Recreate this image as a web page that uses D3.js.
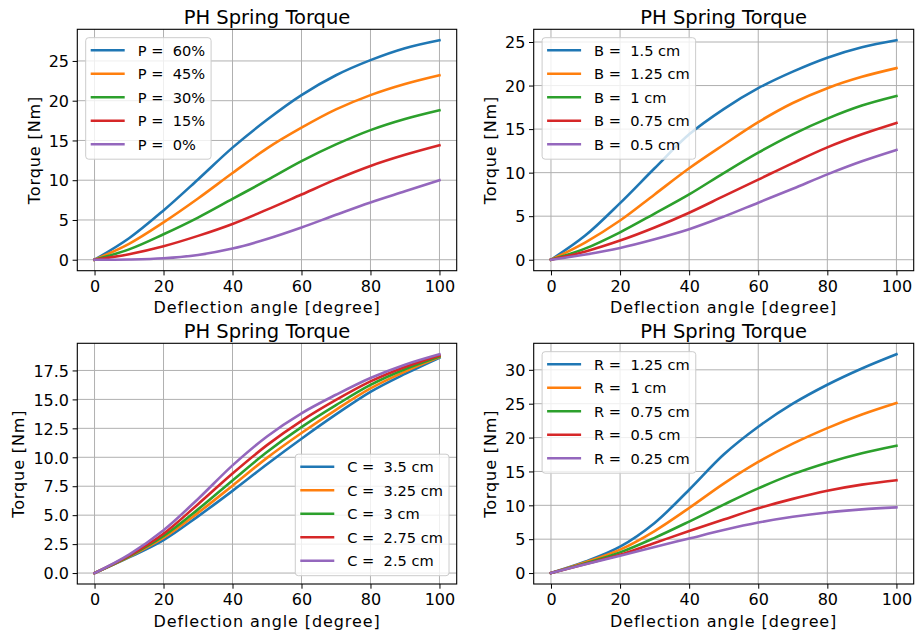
<!DOCTYPE html>
<html>
<head>
<meta charset="utf-8">
<script src="https://cdn.jsdelivr.net/npm/d3@7"></script>
<style>
  body { margin: 0; background: #fff; }
  text { font-family: "DejaVu Sans", sans-serif; fill: #000; }
</style>
</head>
<body>
<svg id="fig" width="917" height="634"></svg>
<script>
const angles = [0, 10, 20, 30, 40, 50, 60, 70, 80, 90, 100];

// panel 1 : pretension P
const pLabels = ["P =  60%", "P =  45%", "P =  30%", "P =  15%", "P =  0%"];
const pSeries = [
  [0, 2.7, 6.2, 10.1, 14.1, 17.6, 20.7, 23.2, 25.1, 26.6, 27.6],
  [0, 2.0, 4.7, 7.7, 10.9, 14.0, 16.6, 18.9, 20.7, 22.1, 23.2],
  [0, 1.3, 3.2, 5.3, 7.65, 10.0, 12.4, 14.5, 16.3, 17.7, 18.8],
  [0, 0.7, 1.7, 3.0, 4.5, 6.3, 8.2, 10.1, 11.8, 13.2, 14.4],
  [0, 0.03, 0.18, 0.6, 1.4, 2.6, 4.05, 5.65, 7.2, 8.6, 10.0]
];

// panel 2 : B
const bLabels = ["B =  1.5 cm", "B =  1.25 cm", "B =  1 cm", "B =  0.75 cm", "B =  0.5 cm"];
const bSeries = [
  [0, 2.8, 6.5, 10.5, 14.4, 17.3, 19.7, 21.6, 23.2, 24.4, 25.2],
  [0, 2.0, 4.5, 7.5, 10.5, 13.2, 15.8, 18.0, 19.7, 21.0, 22.0],
  [0, 1.3, 3.15, 5.3, 7.5, 9.95, 12.3, 14.4, 16.2, 17.7, 18.8],
  [0, 0.95, 2.2, 3.7, 5.4, 7.3, 9.2, 11.1, 12.9, 14.4, 15.7],
  [0, 0.6, 1.35, 2.35, 3.5, 4.95, 6.55, 8.15, 9.8, 11.3, 12.6]
];

// panel 3 : C
const cLabels = ["C =  3.5 cm", "C =  3.25 cm", "C =  3 cm", "C =  2.75 cm", "C =  2.5 cm"];
const cSeries = [
  [0, 1.35, 2.85, 4.9, 7.1, 9.4, 11.6, 13.7, 15.65, 17.2, 18.6],
  [0, 1.4, 3.05, 5.2, 7.55, 9.95, 12.1, 14.1, 15.95, 17.4, 18.65],
  [0, 1.45, 3.2, 5.5, 8.0, 10.45, 12.6, 14.5, 16.25, 17.6, 18.7],
  [0, 1.5, 3.4, 5.95, 8.6, 11.05, 13.15, 14.95, 16.55, 17.8, 18.8],
  [0, 1.6, 3.7, 6.4, 9.3, 11.8, 13.8, 15.4, 16.85, 18.0, 18.9]
];

// panel 4 : R
const rLabels = ["R =  1.25 cm", "R =  1 cm", "R =  0.75 cm", "R =  0.5 cm", "R =  0.25 cm"];
const rSeries = [
  [0, 1.7, 3.9, 7.4, 12.3, 17.5, 21.6, 25.0, 27.8, 30.2, 32.3],
  [0, 1.6, 3.45, 6.2, 9.6, 13.2, 16.4, 19.1, 21.4, 23.4, 25.1],
  [0, 1.45, 3.05, 5.2, 7.6, 10.1, 12.5, 14.6, 16.3, 17.7, 18.8],
  [0, 1.35, 2.7, 4.45, 6.2, 7.9, 9.55, 10.95, 12.15, 13.05, 13.7],
  [0, 1.3, 2.55, 3.85, 5.1, 6.35, 7.45, 8.3, 8.95, 9.4, 9.7]
];

const xTicks = [0, 20, 40, 60, 80, 100];
const yTicks25 = [0, 5, 10, 15, 20, 25];
const yTicks175 = [0, 2.5, 5, 7.5, 10, 12.5, 15, 17.5];
const yTicks30 = [0, 5, 10, 15, 20, 25, 30];

const titleText = "PH Spring Torque";
const xLabel = "Deflection angle [degree]";
const yLabel = "Torque [Nm]";
const colors = ["#1f77b4", "#ff7f0e", "#2ca02c", "#d62728", "#9467bd"];

const panels = [
  { labels: pLabels, series: pSeries, yTicks: yTicks25, fmt: d3.format("d"), x0: 77.3, x1: 456.7, y0: 29.3, y1: 270.7, legend: "ul" },
  { labels: bLabels, series: bSeries, yTicks: yTicks25, fmt: d3.format("d"), x0: 533.7, x1: 913.7, y0: 29.3, y1: 270.7, legend: "ul" },
  { labels: cLabels, series: cSeries, yTicks: yTicks175, fmt: d3.format(".1f"), x0: 77.3, x1: 456.7, y0: 343.3, y1: 584, legend: "lr" },
  { labels: rLabels, series: rSeries, yTicks: yTicks30, fmt: d3.format("d"), x0: 533.7, x1: 913.7, y0: 343.3, y1: 584, legend: "ul" }
];

const svg = d3.select('#fig');

panels.forEach(p => drawPanel(p));

function drawPanel(p) {
  const ymax = d3.max(p.series, s => d3.max(s));
  const ymin = 0;
  const pad = (ymax - ymin) * 0.05;

  const x = d3.scaleLinear().domain([-5, 105]).range([p.x0, p.x1]);
  const y = d3.scaleLinear().domain([ymin - pad, ymax + pad]).range([p.y1, p.y0]);

  const g = svg.append('g');

  // grid
  g.append('g')
    .selectAll('line').data(xTicks).enter().append('line')
    .attr('x1', d => x(d)).attr('x2', d => x(d))
    .attr('y1', p.y0).attr('y2', p.y1)
    .attr('stroke', '#b0b0b0').attr('stroke-width', 1);
  g.append('g')
    .selectAll('line').data(p.yTicks).enter().append('line')
    .attr('x1', p.x0).attr('x2', p.x1)
    .attr('y1', d => y(d)).attr('y2', d => y(d))
    .attr('stroke', '#b0b0b0').attr('stroke-width', 1);

  // axes
  const xAxis = d3.axisBottom(x).tickValues(xTicks).tickSize(4.7).tickPadding(4);
  const yAxis = d3.axisLeft(y).tickValues(p.yTicks).tickFormat(p.fmt).tickSize(4.7).tickPadding(3.6);

  const gx = g.append('g').attr('transform', `translate(0,${p.y1})`).call(xAxis);
  gx.select('.domain').remove();
  gx.selectAll('text').attr('font-size', 16).attr('font-family', '"DejaVu Sans", sans-serif')
    .attr('dy', null).attr('y', 21).attr('fill', '#000');
  gx.selectAll('line').attr('stroke', '#000').attr('stroke-width', 1);

  const gy = g.append('g').attr('transform', `translate(${p.x0},0)`).call(yAxis);
  gy.select('.domain').remove();
  gy.selectAll('text').attr('font-size', 16).attr('font-family', '"DejaVu Sans", sans-serif')
    .attr('dy', '0.36em').attr('fill', '#000');
  gy.selectAll('line').attr('stroke', '#000').attr('stroke-width', 1);

  // curves
  const line = d3.line()
    .x((d, i) => x(angles[i]))
    .y(d => y(d))
    .curve(d3.curveCatmullRom.alpha(0.5));

  g.append('g')
    .selectAll('path').data(p.series).enter().append('path')
    .attr('d', d => line(d))
    .attr('fill', 'none')
    .attr('stroke', (d, i) => colors[i])
    .attr('stroke-width', 2.6)
    .attr('stroke-linecap', 'square');

  // frame
  g.append('rect')
    .attr('x', p.x0).attr('y', p.y0)
    .attr('width', p.x1 - p.x0).attr('height', p.y1 - p.y0)
    .attr('fill', 'none').attr('stroke', '#000').attr('stroke-width', 1.1);

  // title
  g.append('text')
    .attr('x', (p.x0 + p.x1) / 2)
    .attr('y', p.y0 - 5)
    .attr('text-anchor', 'middle')
    .style('font-size', '19.5px')
    .text(titleText);

  // x label
  g.append('text')
    .attr('x', (p.x0 + p.x1) / 2)
    .attr('y', p.y1 + 42.6)
    .attr('text-anchor', 'middle')
    .style('font-size', '16px')
    .style('letter-spacing', '0.9px')
    .text(xLabel);

  // y label, placed left of the widest tick label
  let tw = 0;
  gy.selectAll('text').each(function () { tw = Math.max(tw, this.getComputedTextLength()); });
  const ylx = p.x0 - 8.3 - tw - 9;
  g.append('text')
    .attr('transform', `translate(${ylx},${(p.y0 + p.y1) / 2}) rotate(-90)`)
    .attr('text-anchor', 'middle')
    .style('font-size', '16px')
    .style('letter-spacing', '0.9px')
    .text(yLabel);

  // legend
  const lg = g.append('g');
  const rowH = 23.5;
  const texts = lg.selectAll('text').data(p.labels).enter().append('text')
    .style('font-size', '14.6px')
    .style('white-space', 'pre')
    .attr('xml:space', 'preserve')
    .attr('dy', '0.36em')
    .text(d => d);
  let lw = 0;
  texts.each(function () { lw = Math.max(lw, this.getComputedTextLength()); });
  const boxW = 52 + lw + 6;
  const boxH = 121.5;
  let bx, by;
  if (p.legend === 'lr') {
    bx = p.x1 - 7.7 - boxW;
    by = p.y1 - 8.3 - boxH;
  } else {
    bx = p.x0 + 8.4;
    by = p.y0 + 8.4;
  }
  lg.insert('rect', 'text')
    .attr('x', bx).attr('y', by)
    .attr('width', boxW).attr('height', boxH)
    .attr('rx', 3).attr('ry', 3)
    .attr('fill', '#fff').attr('fill-opacity', 0.8)
    .attr('stroke', '#cccccc').attr('stroke-width', 1);
  lg.selectAll('line').data(p.labels).enter().append('line')
    .attr('x1', bx + 5).attr('x2', bx + 39)
    .attr('y1', (d, i) => by + 12.6 + i * rowH)
    .attr('y2', (d, i) => by + 12.6 + i * rowH)
    .attr('stroke', (d, i) => colors[i])
    .attr('stroke-width', 2.6);
  texts
    .attr('x', bx + 52)
    .attr('y', (d, i) => by + 12.6 + i * rowH);
}
</script>
</body>
</html>
